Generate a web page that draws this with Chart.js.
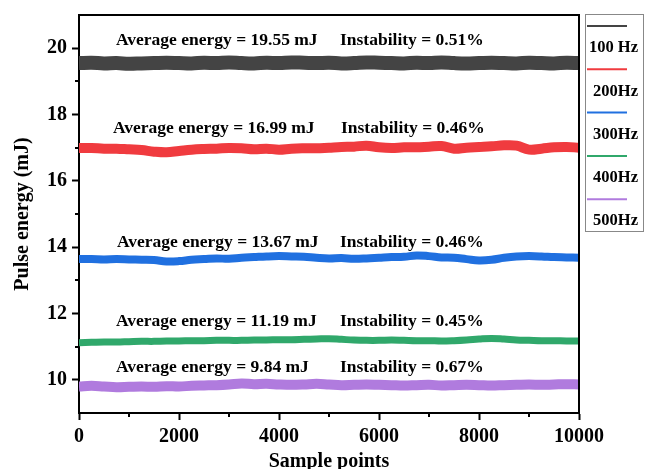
<!DOCTYPE html>
<html>
<head>
<meta charset="utf-8">
<title>Pulse energy stability</title>
<script src="https://cdn.jsdelivr.net/npm/chart.js@4.4.1/dist/chart.umd.min.js"></script>
<style>
  html, body { margin: 0; padding: 0; background: #fff; }
  #wrap { width: 645px; height: 469px; }
</style>
</head>
<body>
<div id="wrap"><canvas id="chartEnergy" width="645" height="469"></canvas></div>
<script>
// -- data (one reading every 250 samples)
const samplePoints = [
  0, 250, 500, 750, 1000, 1250, 1500, 1750, 2000, 2250,
  2500, 2750, 3000, 3250, 3500, 3750, 4000, 4250, 4500, 4750,
  5000, 5250, 5500, 5750, 6000, 6250, 6500, 6750, 7000, 7250,
  7500, 7750, 8000, 8250, 8500, 8750, 9000, 9250, 9500, 9750, 10000
];
const freqLabels = ["100 Hz", "200Hz", "300Hz", "400Hz", "500Hz"];
const avgEnergy = [19.55, 16.99, 13.67, 11.19, 9.84];
const instability = [0.51, 0.46, 0.46, 0.45, 0.67];

const energy100 = [
  19.55, 19.56, 19.54, 19.55, 19.53, 19.54, 19.55, 19.56, 19.55, 19.54,
  19.56, 19.55, 19.57, 19.55, 19.54, 19.56, 19.55, 19.57, 19.56, 19.55,
  19.56, 19.54, 19.55, 19.57, 19.56, 19.55, 19.54, 19.56, 19.55, 19.57,
  19.55, 19.54, 19.55, 19.56, 19.55, 19.54, 19.56, 19.55, 19.54, 19.56, 19.55
];
const energy200 = [
  16.99, 16.99, 16.97, 16.97, 16.95, 16.93, 16.88, 16.86, 16.90, 16.94,
  16.96, 16.97, 16.99, 16.98, 16.95, 16.97, 16.94, 16.97, 16.98, 16.98,
  17.00, 17.02, 17.03, 17.06, 17.01, 16.99, 17.01, 17.01, 17.03, 17.05,
  16.97, 17.00, 17.02, 17.04, 17.07, 17.06, 16.94, 16.97, 17.01, 17.02, 17.00
];
const energy300 = [
  13.64, 13.64, 13.63, 13.64, 13.63, 13.62, 13.61, 13.57, 13.58, 13.62,
  13.64, 13.66, 13.65, 13.68, 13.70, 13.72, 13.73, 13.72, 13.71, 13.68,
  13.66, 13.67, 13.65, 13.66, 13.68, 13.70, 13.71, 13.75, 13.73, 13.69,
  13.68, 13.64, 13.60, 13.62, 13.68, 13.72, 13.73, 13.72, 13.70, 13.69, 13.68
];
const energy400 = [
  11.12, 11.13, 11.14, 11.14, 11.15, 11.16, 11.16, 11.17, 11.17, 11.18,
  11.18, 11.19, 11.19, 11.19, 11.20, 11.20, 11.21, 11.21, 11.22, 11.23,
  11.24, 11.22, 11.20, 11.19, 11.19, 11.20, 11.19, 11.18, 11.18, 11.17,
  11.18, 11.20, 11.23, 11.25, 11.23, 11.20, 11.19, 11.18, 11.18, 11.17, 11.17
];
const energy500 = [
  9.80, 9.82, 9.80, 9.78, 9.79, 9.80, 9.79, 9.81, 9.80, 9.82,
  9.83, 9.84, 9.86, 9.89, 9.87, 9.88, 9.86, 9.85, 9.86, 9.88,
  9.86, 9.84, 9.85, 9.86, 9.85, 9.84, 9.83, 9.84, 9.85, 9.83,
  9.84, 9.85, 9.84, 9.83, 9.84, 9.85, 9.86, 9.85, 9.86, 9.87, 9.86
];

const xTicks = [0, 2000, 4000, 6000, 8000, 10000];
const yTicks = [10, 12, 14, 16, 18, 20];
const xMinor = [1000, 3000, 5000, 7000, 9000];
const yMinor = [11, 13, 15, 17, 19];

// -- look
const SERIF = "'Liberation Serif', 'Times New Roman', serif";
const seriesColors = ["#444444", "#f03b3f", "#2070e0", "#30a86b", "#b07bde"];
const bandWidths = [14, 10, 8, 7, 10];
// where each pair of notes sits (data units)
const notePos = [
  { avg: 740, inst: 5220, y: 20.23 },
  { avg: 680, inst: 5240, y: 17.57 },
  { avg: 760, inst: 5220, y: 14.14 },
  { avg: 740, inst: 5220, y: 11.75 },
  { avg: 740, inst: 5220, y: 10.36 },
];

function toPoints(values) {
  return values.map((v, i) => ({ x: samplePoints[i], y: v }));
}

const seriesValues = [energy100, energy200, energy300, energy400, energy500];

// -- plugins
const frameNotes = {
  id: "frameNotes",
  afterDraw(chart) {
    const { ctx, chartArea: a } = chart;
    const xs = chart.scales.x, ys = chart.scales.y;
    ctx.save();
    ctx.strokeStyle = "#000";
    ctx.lineWidth = 2;
    ctx.lineCap = "square";
    ctx.beginPath();
    ctx.moveTo(a.left, a.top);
    ctx.lineTo(a.right, a.top);
    ctx.lineTo(a.right, a.bottom);
    ctx.stroke();

    // minor ticks
    ctx.lineCap = "butt";
    ctx.beginPath();
    xMinor.forEach((v) => {
      const px = Math.round(xs.getPixelForValue(v));
      ctx.moveTo(px, a.bottom);
      ctx.lineTo(px, a.bottom + 4);
    });
    yMinor.forEach((v) => {
      const py = Math.round(ys.getPixelForValue(v));
      ctx.moveTo(a.left, py);
      ctx.lineTo(a.left - 4, py);
    });
    ctx.stroke();

    // notes over each band
    ctx.fillStyle = "#000";
    ctx.font = "bold 17.5px " + SERIF;
    ctx.textAlign = "left";
    ctx.textBaseline = "middle";
    avgEnergy.forEach((v, i) => {
      const p = notePos[i];
      const py = ys.getPixelForValue(p.y);
      ctx.fillText("Average energy = " + v.toFixed(2) + " mJ", xs.getPixelForValue(p.avg), py);
      ctx.fillText("Instability = " + instability[i].toFixed(2) + "%", xs.getPixelForValue(p.inst), py);
    });
    ctx.restore();
  },
};

const boxLegend = {
  id: "boxLegend",
  afterDraw(chart) {
    const { ctx } = chart;
    ctx.save();
    ctx.strokeStyle = "#888";
    ctx.lineWidth = 1;
    ctx.strokeRect(585.5, 14.5, 58, 217);
    ctx.font = "bold 16.5px " + SERIF;
    ctx.textAlign = "right";
    ctx.textBaseline = "middle";
    ctx.fillStyle = "#000";
    chart.data.datasets.forEach((ds, i) => {
      const ly = 26 + i * 43.3;
      ctx.strokeStyle = ds.borderColor;
      ctx.lineWidth = 2;
      ctx.beginPath();
      ctx.moveTo(587, ly);
      ctx.lineTo(627, ly);
      ctx.stroke();
      ctx.fillText(ds.label, 638, ly + 22);
    });
    ctx.restore();
  },
};

// -- chart
Chart.defaults.font.family = SERIF;
Chart.defaults.color = "#000";

const datasets = seriesValues.map((vals, i) => ({
  label: freqLabels[i],
  data: toPoints(vals),
  borderColor: seriesColors[i],
  backgroundColor: seriesColors[i],
  borderWidth: bandWidths[i],
  pointRadius: 0,
  tension: 0.4,
  borderCapStyle: "butt",
  borderJoinStyle: "round",
  clip: 0,
}));

const chartEnergy = new Chart(document.getElementById("chartEnergy"), {
  type: "line",
  data: { datasets },
  options: {
    responsive: false,
    animation: false,
    layout: { padding: { top: 12, right: 66, left: 0, bottom: 0 } },
    plugins: { legend: { display: false }, tooltip: { enabled: false } },
    scales: {
      x: {
        type: "linear",
        min: 0,
        max: 10000,
        afterBuildTicks: (s) => { s.ticks = xTicks.map((v) => ({ value: v })); },
        afterFit: (s) => { s.height = 56; },
        ticks: {
          font: { size: 20, weight: "bold" },
          padding: 5,
          maxRotation: 0,
          callback: (v) => String(v),
        },
        grid: { drawOnChartArea: false, tickLength: 7, tickWidth: 2, tickColor: "#000" },
        border: { color: "#000", width: 2 },
        title: {
          display: true,
          text: "Sample points",
          font: { size: 20, weight: "bold", lineHeight: 1 },
          padding: { top: 0, bottom: -3 },
        },
      },
      y: {
        min: 9,
        max: 21,
        afterBuildTicks: (s) => { s.ticks = yTicks.map((v) => ({ value: v })); },
        afterFit: (s) => { s.width = 79; },
        ticks: { font: { size: 20, weight: "bold", lineHeight: 1 }, padding: 5 },
        grid: { drawOnChartArea: false, tickLength: 7, tickWidth: 2, tickColor: "#000" },
        border: { color: "#000", width: 2 },
        title: {
          display: true,
          text: "Pulse energy (mJ)",
          font: { size: 20, weight: "bold", lineHeight: 1 },
          padding: { top: 13, bottom: 0 },
        },
      },
    },
  },
  plugins: [frameNotes, boxLegend],
});
</script>
</body>
</html>
